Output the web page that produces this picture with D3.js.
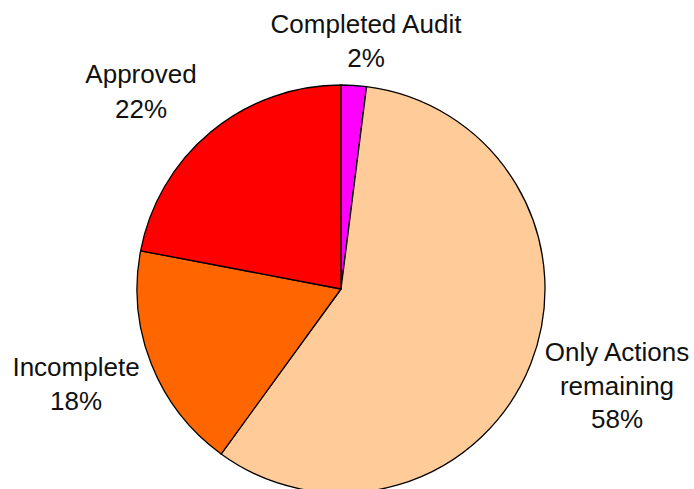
<!DOCTYPE html>
<html>
<head>
<meta charset="utf-8">
<script src="https://cdn.jsdelivr.net/npm/d3@7"></script>
<style>
  html, body { margin: 0; padding: 0; background: #fff; }
  svg { display: block; overflow: hidden; }
  .label { font-family: "Liberation Sans", Arial, sans-serif; font-size: 26px; fill: #111; }
</style>
</head>
<body>
<div id="chart"></div>
<script>
;(function () {
    const width = 694, height = 489;

    // chart data, clockwise from 12 o'clock
    const categories = ["Completed Audit", "Only Actions remaining", "Incomplete", "Approved"];
    const values = [2, 58, 18, 22];
    const colors = ["#FF00FF", "#FFCC99", "#FF6600", "#FF0000"];
    // label lines as printed in the chart
    const labelLines = [
        ["Completed Audit", "2%"],
        ["Only Actions", "remaining", "58%"],
        ["Incomplete", "18%"],
        ["Approved", "22%"]
    ];

    const cx = 341, cy = 289, radius = 204;

    const svg = d3.select("#chart")
        .append("svg")
        .attr("width", width)
        .attr("height", height);

    const g = svg.append("g")
        .attr("transform", "translate(" + cx + "," + cy + ")");

    const pie = d3.pie().sort(null).value(d => d.value);
    const arc = d3.arc().innerRadius(0).outerRadius(radius);

    const data = categories.map((c, i) => ({ name: c, value: values[i], color: colors[i], lines: labelLines[i] }));
    const arcs = pie(data);

    g.selectAll("path")
        .data(arcs)
        .enter()
        .append("path")
        .attr("d", arc)
        .attr("fill", d => d.data.color)
        .attr("stroke", "#000")
        .attr("stroke-width", 1.3)
        .attr("stroke-linejoin", "round");

    // label placement: absolute positions of the first baseline
    const labelPos = [
        { x: 366, y: 33, step: 34 },
        { x: 617, y: 361, step: 33.5 },
        { x: 76, y: 376, step: 34 },
        { x: 141, y: 83, step: 35 }
    ];

    arcs.forEach((d, i) => {
        const p = labelPos[i];
        const t = svg.append("text")
            .attr("class", "label")
            .attr("text-anchor", "middle");
        d.data.lines.forEach((line, j) => {
            t.append("tspan")
                .attr("x", p.x)
                .attr("y", p.y + j * p.step)
                .text(line);
        });
    });
})()
</script>
</body>
</html>
